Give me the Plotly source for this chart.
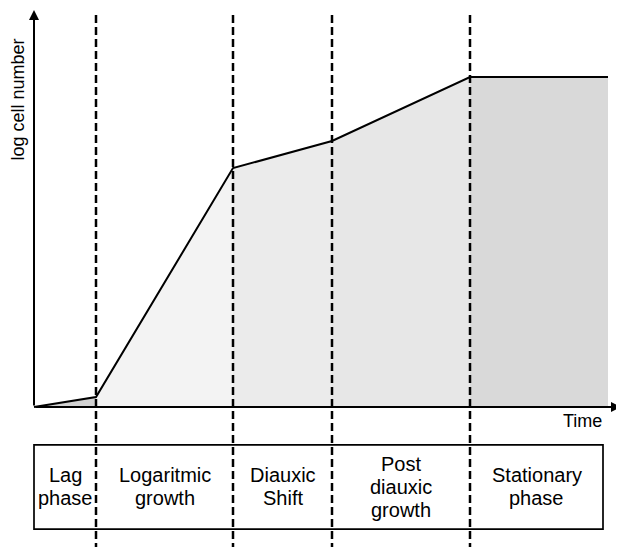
import plotly.graph_objects as go

# Data (arbitrary units)
times = [0, 6.2, 19.9, 29.8, 43.6, 57.4]
log_cells = [0, 0.3, 7.24, 8.06, 10.0, 10.0]
phase_labels = [["Lag", "phase"], ["Logaritmic", "growth"], ["Diauxic", "Shift"],
                ["Post", "diauxic", "growth"], ["Stationary", "phase"]]
phase_colors = ["#d2d2d2", "#f3f3f3", "#ebebeb", "#e7e7e7", "#d9d9d9"]

box_right = 56.9
# page has an 8px body margin, so figure is 616x539
x_range = [-2.6, 59.0]
y_range = [-4.242, 12.091]

fig = go.Figure()

# Shaded phase areas
for i in range(5):
    fig.add_trace(go.Scatter(
        x=[times[i], times[i + 1]], y=[log_cells[i], log_cells[i + 1]],
        mode="lines", line=dict(width=0), fill="tozeroy",
        fillcolor=phase_colors[i], hoverinfo="skip", showlegend=False))

# Growth curve
fig.add_trace(go.Scatter(x=times, y=log_cells, mode="lines",
                         line=dict(color="black", width=2),
                         hoverinfo="skip", showlegend=False))

# Dashed phase separators
for t in times[1:5]:
    fig.add_shape(type="line", x0=t, x1=t, y0=11.88, y1=y_range[0],
                  line=dict(color="black", width=2.5, dash="8px,4px"))

# Label box
fig.add_shape(type="rect", x0=0, x1=box_right, y0=-1.15, y1=-3.70,
              line=dict(color="black", width=1.7), fillcolor="rgba(0,0,0,0)")

# Axes arrows
fig.add_annotation(x=0, y=12.03, ax=0, ay=0, axref="x", ayref="y",
                   showarrow=True, arrowhead=2, arrowsize=1, arrowwidth=2,
                   arrowcolor="black", text="")
fig.add_annotation(x=58.7, y=0, ax=0, ay=0, axref="x", ayref="y",
                   showarrow=True, arrowhead=2, arrowsize=1, arrowwidth=2,
                   arrowcolor="black", text="")

font = dict(family="Liberation Sans, Arial, sans-serif", size=20, color="black")
font_t = dict(family="Liberation Sans, Arial, sans-serif", size=18, color="black")
font_y = dict(family="Liberation Sans, Arial, sans-serif", size=18, color="black")

# Phase labels (each line placed separately for tight line spacing)
edges = [0] + times[1:5] + [box_right]
box_mid = -2.42
line_gap = 0.70
for i, lines in enumerate(phase_labels):
    n = len(lines)
    for j, txt in enumerate(lines):
        yy = box_mid + ((n - 1) / 2 - j) * line_gap
        fig.add_annotation(x=(edges[i] + edges[i + 1]) / 2, y=yy, text=txt,
                           showarrow=False, font=font,
                           xanchor="center", yanchor="middle")

# Axis labels
fig.add_annotation(x=box_right + 0.05, y=-0.42, text="Time", showarrow=False,
                   font=font_t, xanchor="right", yanchor="middle")
fig.add_annotation(x=-1.55, y=9.3, text="log cell number", showarrow=False,
                   font=font_y, textangle=-90, xanchor="center", yanchor="middle")

fig.update_xaxes(range=x_range, visible=False)
fig.update_yaxes(range=y_range, visible=False)
fig.update_layout(width=616, height=539, margin=dict(l=0, r=0, t=0, b=0),
                  plot_bgcolor="white", paper_bgcolor="white")

fig.write_html("out.html")
